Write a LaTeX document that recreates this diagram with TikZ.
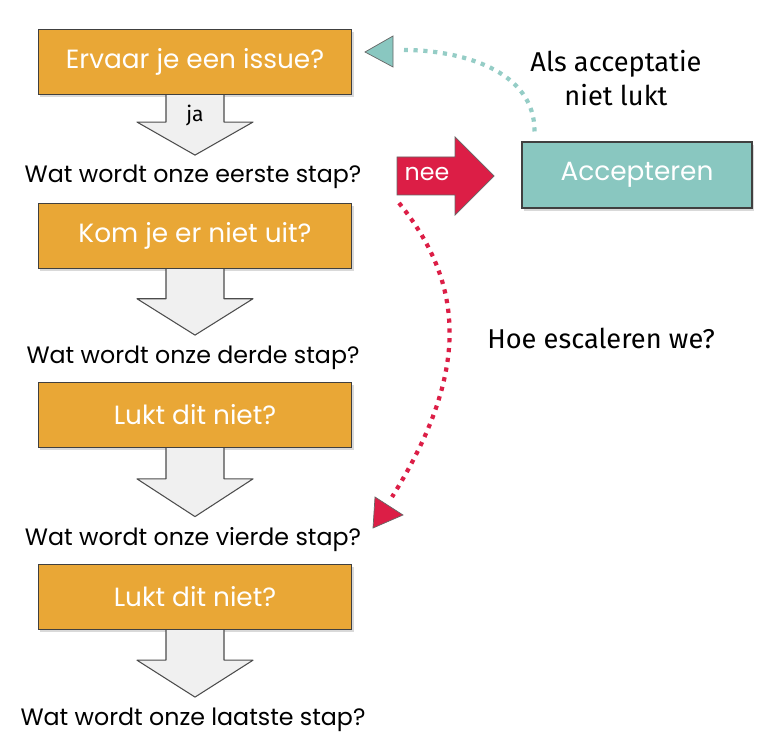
\documentclass[tikz,border=0pt]{standalone}
\usepackage{fontspec}
\setmainfont{Poppins}
\newfontfamily\handfont{Fira Sans}
\usetikzlibrary{calc,shadows}

\definecolor{oranje}{HTML}{E9A736}
\definecolor{teal}{HTML}{89C7C0}
\definecolor{rood}{HTML}{DC1E46}

\tikzset{
  vraagbox/.style={draw=black!75, line width=0.6pt, fill=oranje, text=white, minimum width=6.28cm, minimum height=1.3cm, inner sep=0pt, font=\fontsize{15}{17}\selectfont, drop shadow={shadow xshift=1.2pt, shadow yshift=-1.5pt, opacity=0.3}},
  stapje/.style={font=\fontsize{13.5}{15}\selectfont, inner sep=0pt, anchor=base},
  grijspijl/.style={draw=black!70, line width=0.6pt, fill=black!6, line join=round},
  hand/.style={font=\handfont\fontsize{15.5}{19}\selectfont, align=center},
  puntjes/.style={line width=2.4pt, dash pattern=on 2.4pt off 3.2pt},
}

\begin{document}
\begin{tikzpicture}[x=0.02cm, y=-0.02cm]
  \useasboundingbox (0,0) rectangle (768,750);

  % linker kolom
  \node[vraagbox] (b1) at (195,62) {Ervaar je een issue?};
  \node[stapje] (q1) at (193,183) {Wat wordt onze eerste stap?};
  \node[vraagbox] (b2) at (195,236) {Kom je er niet uit?};
  \node[stapje] (q2) at (193,363) {Wat wordt onze derde stap?};
  \node[vraagbox] (b3) at (195,415) {Lukt dit niet?};
  \node[stapje] (q3) at (193,545) {Wat wordt onze vierde stap?};
  \node[vraagbox] (b4) at (195,597) {Lukt dit niet?};
  \node[stapje] (q4) at (193,725) {Wat wordt onze laatste stap?};

  \foreach \a/\b in {b1/q1,b2/q2,b3/q3,b4/q4}{
    \coordinate (tip) at ($(\a.south |- \b.north)+(0,-10)$);
    \draw[grijspijl] ($(\a.south)+(-29,0)$) -- ($(\a.south)!0.45!(tip)+(-29,0)$) -- ($(\a.south)!0.45!(tip)+(-58,0)$) -- (tip)
      -- ($(\a.south)!0.45!(tip)+(58,0)$) -- ($(\a.south)!0.45!(tip)+(29,0)$) -- ($(\a.south)+(29,0)$);
  }
  \node[hand, font=\handfont\fontsize{12}{14}\selectfont] (ja) at (195,116) {ja};

  % rechter kant
  \node[vraagbox, fill=teal, minimum width=4.6cm, minimum height=1.32cm] (acc) at (637,175) {Accepteren};
  \fill[rood, draw=black!60, line width=0.4pt] (397,157) -- (455,157) -- (455,137) -- (494,176) -- (455,215) -- (455,195) -- (397,195) -- cycle;
  \node[text=white, font=\fontsize{13.5}{15}\selectfont] (nee) at (427,174) {nee};

  \coordinate (acc-start) at ($(acc.north west)+(13,-10)$);
  \coordinate (acc-end) at (404,50);
  \draw[puntjes, teal!90!white] (acc-start) .. controls (535,70) and (460,50) .. (acc-end);
  \filldraw[fill=teal, draw=black!60, line width=0.4pt] (365,52) -- (393,36) -- (393,67) -- cycle;
  \node[hand] (lukt) at (616,78) {Als acceptatie\\niet lukt};

  \coordinate (esc-start) at (399,203);
  \coordinate (esc-end) at (392,497);
  \draw[puntjes, rood] (esc-start) .. controls (470,290) and (465,380) .. (esc-end);
  \filldraw[fill=rood, draw=black!60, line width=0.4pt] (375,497) -- (403,515) -- (373,528) -- cycle;
  \node[hand] (esc) at (601,338) {Hoe escaleren we?};
\end{tikzpicture}
\end{document}
